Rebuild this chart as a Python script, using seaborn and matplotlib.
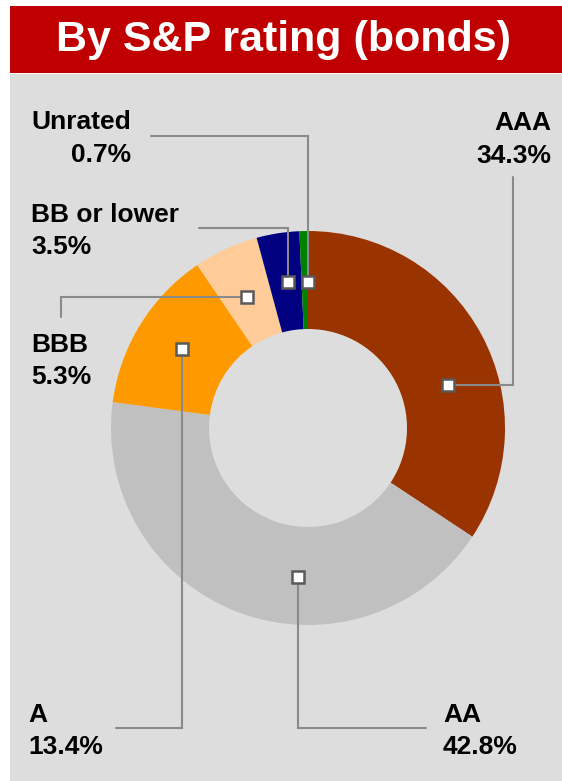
import matplotlib
matplotlib.use("Agg")
import matplotlib.pyplot as plt
import seaborn as sns
from matplotlib.patches import Rectangle

# ---- data ----
categories = ["AAA", "AA", "A", "BBB", "BB or lower", "Unrated"]
values = [34.3, 42.8, 13.4, 5.3, 3.5, 0.7]
colors = ["#993300", "#C0C0C0", "#FF9900", "#FFCC99", "#000080", "#008000"]
title = "By S&P rating (bonds)"

# ---- style ----
sns.set_theme(style="white")
plt.rcParams['font.family'] = ['Liberation Sans', 'DejaVu Sans']

W, H = 562, 781
fig = plt.figure(figsize=(W / 100, H / 100), dpi=100, facecolor='white')
ax = fig.add_axes([0, 0, 1, 1])


def Y(py):
    return H - py


# background panels
ax.add_patch(Rectangle((10, 0), W - 10, Y(74), facecolor='#DDDDDD', edgecolor='none', zorder=0))
ax.add_patch(Rectangle((10, Y(73)), W - 10, 73 - 6, facecolor='#C00000', edgecolor='none', zorder=0))
ax.text(283, Y(40), title, color='white', fontsize=31, fontweight='bold',
        ha='center', va='center', zorder=5)

# donut
pal = sns.color_palette(colors)
ax.pie(values, colors=pal, startangle=90, counterclock=False,
       center=(308, Y(428)), radius=197,
       wedgeprops=dict(width=98, linewidth=0))

# annotation layout (pixel coordinates, from top)
layout = {
    "AAA":         dict(path=[(448, 385), (513, 385), (513, 177)], x=551, ha='right', base=(130, 163)),
    "AA":          dict(path=[(298, 577), (298, 728), (426, 728)], x=443, ha='left', base=(722, 754)),
    "A":           dict(path=[(182, 349), (182, 728), (116, 728)], x=28, ha='left', base=(722, 754)),
    "BBB":         dict(path=[(247, 297), (61, 297), (61, 317)], x=31, ha='left', base=(352, 384)),
    "BB or lower": dict(path=[(288, 282), (288, 228), (199, 228)], x=31, ha='left', base=(222, 254)),
    "Unrated":     dict(path=[(308, 282), (308, 136), (151, 136)], x=131, ha='right', base=(129, 162)),
}

for cat, val in zip(categories, values):
    lay = layout[cat]
    xs = [p[0] for p in lay["path"]]
    ys = [Y(p[1]) for p in lay["path"]]
    ax.plot(xs, ys, color='#8A8A8A', lw=1.5, zorder=3, solid_joinstyle='miter')
    ax.plot([xs[0]], [ys[0]], marker='s', markersize=9.3, markerfacecolor='white',
            markeredgecolor='#595959', markeredgewidth=1.8, zorder=4, linestyle='none')
    ax.text(lay["x"], Y(lay["base"][0]), cat, fontsize=19, fontweight='bold',
            color='black', ha=lay["ha"], va='baseline', zorder=5)
    ax.text(lay["x"], Y(lay["base"][1]), f"{val:.1f}%", fontsize=19, fontweight='bold',
            color='black', ha=lay["ha"], va='baseline', zorder=5)

ax.set_xlim(0, W)
ax.set_ylim(0, H)
ax.set_aspect('equal')
ax.axis('off')

fig.savefig('out.png', dpi=100, facecolor='white')
